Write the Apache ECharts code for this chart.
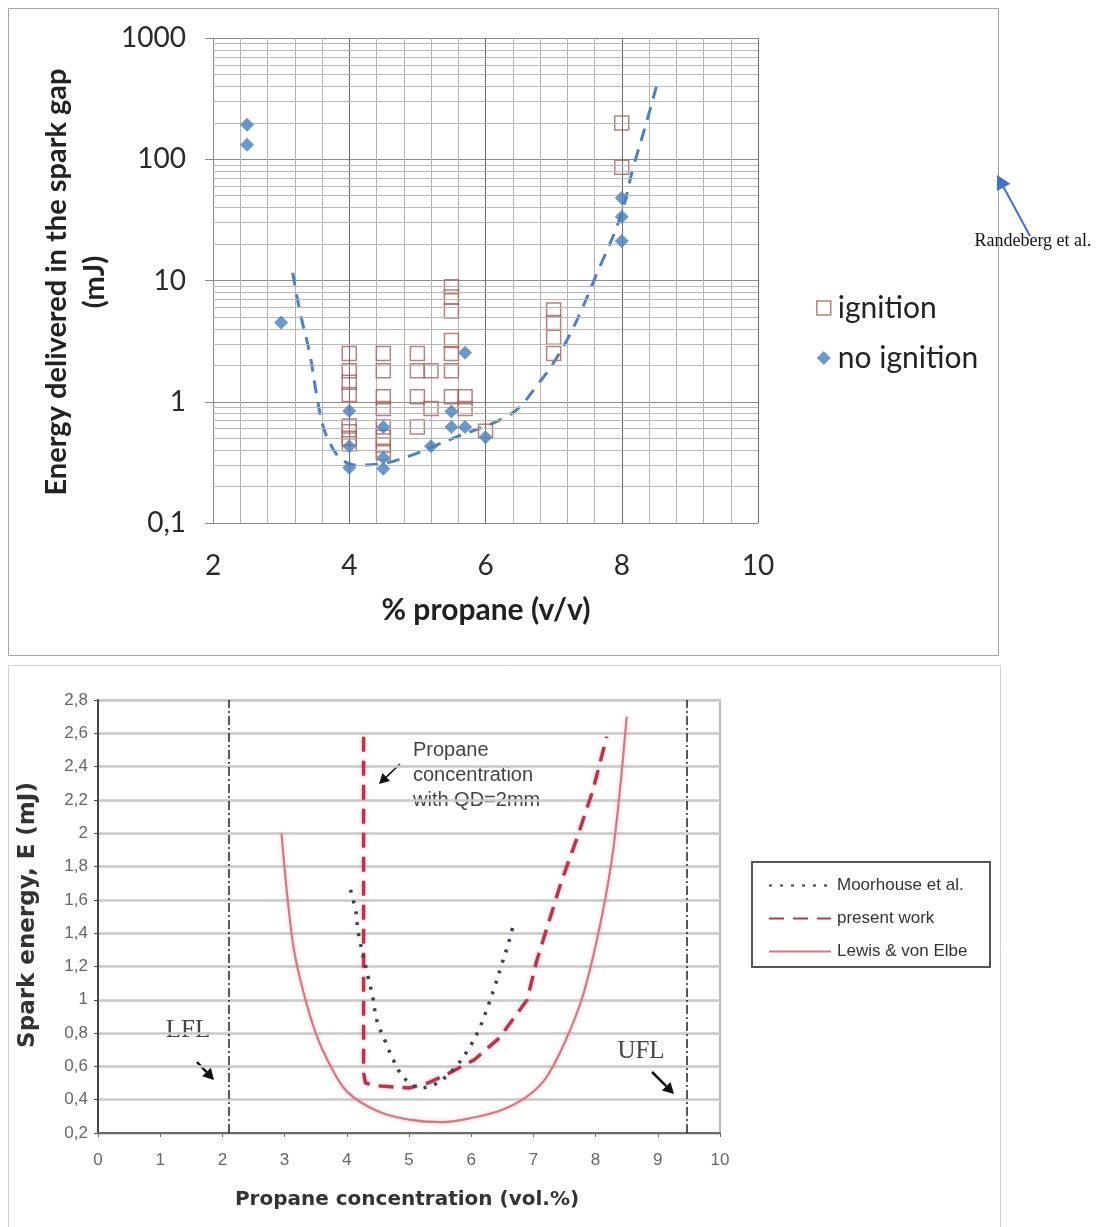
<!DOCTYPE html>
<html>
<head>
<meta charset="utf-8">
<script src="https://cdn.jsdelivr.net/npm/echarts@6/dist/echarts.min.js"></script>
<style>
html,body{margin:0;padding:0;background:#fff;}
#chart{width:1096px;height:1227px;}
</style>
</head>
<body>
<div id="chart"></div>
<script>
// ---------- Top chart data (log scale) ----------
const ignitionX = [4,4,4,4,4,4,4,4, 4.5,4.5,4.5,4.5,4.5,4.5,4.5,4.5, 5,5,5,5, 5.2,5.2, 5.5,5.5,5.5,5.5,5.5,5.5,5.5, 5.7,5.7, 6, 7,7,7,7, 8,8];
const ignitionY = [2.5,1.8,1.45,1.15,0.63,0.565,0.5,0.45, 2.5,1.8,1.1,0.88,0.62,0.51,0.44,0.38, 2.5,1.8,1.1,0.62, 1.8,0.88, 8.9,7.3,5.6,3.2,2.5,1.8,1.1, 1.1,0.88, 0.57, 5.7,4.5,3.4,2.5, 199,86];
const noIgnitionX = [2.5,2.5, 3, 4,4,4, 4.5,4.5,4.5, 5.2, 5.5,5.5, 5.7,5.7, 6, 8,8,8];
const noIgnitionY = [193,132, 4.5, 0.84,0.43,0.285, 0.62,0.345,0.28, 0.43, 0.83,0.62, 2.54,0.62, 0.51, 48,33.5,21.2];
const fitX = [3.17,3.28,3.42,3.52,3.62,3.75,3.9,4.1,4.5,4.9,5.2,5.6,6.0,6.3,6.5,6.75,7.0,7.3,7.64,7.98,8.17,8.35,8.52];
const fitY = [11.6,5.4,2.5,1.15,0.62,0.42,0.33,0.3,0.31,0.36,0.42,0.52,0.63,0.75,0.9,1.35,2.1,4.2,11.6,33.5,86,190,420];
const topXTicks = [2,4,6,8,10];
const topYTicks = [0.1,1,10,100,1000];

// ---------- Bottom chart data ----------
const moorhouseX = [4.06,4.15,4.18,4.34,4.42,4.48,4.63,4.76,4.92,5.19,5.45,5.71,5.95,6.11,6.24,6.37,6.48,6.6,6.69];
const moorhouseY = [1.66,1.52,1.41,1.14,1.01,0.88,0.74,0.63,0.53,0.47,0.5,0.58,0.70,0.81,0.93,1.07,1.2,1.34,1.47];
const presentX = [4.27,4.27,4.3,4.45,4.6,4.8,5.0,5.3,5.6,6.05,6.45,6.9,7.05,7.25,7.45,7.7,7.95,8.18];
const presentY = [2.58,0.56,0.5,0.485,0.48,0.475,0.47,0.5,0.55,0.64,0.77,1.0,1.23,1.47,1.71,1.97,2.25,2.58];
const lewisX = [2.95,3.05,3.15,3.3,3.5,3.7,4.0,4.5,5.0,5.5,6.0,6.5,6.9,7.2,7.5,7.8,8.1,8.3,8.5];
const lewisY = [2.0,1.6,1.3,1.05,0.8,0.63,0.45,0.33,0.28,0.265,0.29,0.34,0.42,0.53,0.74,1.03,1.5,1.95,2.7];
const limitX = [2.1, 9.47];          // LFL, UFL
const bottomXTicks = [0,1,2,3,4,5,6,7,8,9,10];
const bottomYTicks = [0.2,0.4,0.6,0.8,1,1.2,1.4,1.6,1.8,2,2.2,2.4,2.6,2.8];

const zip = (xs, ys) => xs.map((x, i) => [x, ys[i]]);

// minor log gridlines (2..9 per decade)
const minorLog = [];
[0.1, 1, 10, 100].forEach(d => { for (let k = 2; k <= 9; k++) minorLog.push(+(d * k).toPrecision(3)); });

const commaFmt = v => {
  const n = Math.round(v * 10) / 10;
  return (Number.isInteger(n) ? String(n) : n.toFixed(1)).replace('.', ',');
};

function arrow(x1, y1, x2, y2, color, w, head) {
  const ang = Math.atan2(y2 - y1, x2 - x1);
  const hl = head, hw = head * 0.55;
  const bx = x2 - hl * Math.cos(ang), by = y2 - hl * Math.sin(ang);
  const px = -Math.sin(ang) * hw, py = Math.cos(ang) * hw;
  return [
    { type: 'line', silent: true, shape: { x1, y1, x2: bx, y2: by }, style: { stroke: color, lineWidth: w } },
    { type: 'polygon', silent: true, shape: { points: [[x2, y2], [bx + px, by + py], [bx - px, by - py]] }, style: { fill: color } }
  ];
}

const chart = echarts.init(document.getElementById('chart'), null, { renderer: 'canvas' });

const option = {
  backgroundColor: '#fff',
  animation: false,
  grid: [
    { left: 213, top: 38, width: 545, height: 485, show: false },
    { left: 98, top: 700, width: 622, height: 433, show: true, borderColor: '#bdbdbd', borderWidth: 2, backgroundColor: 'transparent' }
  ],
  xAxis: [
    {
      gridIndex: 0, type: 'value', min: 2, max: 10, interval: 2,
      axisLine: { show: true, onZero: false, lineStyle: { color: '#8a8a8a', width: 1 } },
      axisTick: { show: false },
      axisLabel: { fontSize: 28, fontFamily: 'Lato', color: '#2a2a2a', margin: 29,
        formatter: v => topXTicks.includes(v) ? String(v) : '' },
      splitLine: { show: true, lineStyle: { color: '#6e6e6e', width: 1 } },
      minorTick: { show: false, splitNumber: 5 },
      minorSplitLine: { show: true, lineStyle: { color: '#b4b4b4', width: 1 } }
    },
    {
      gridIndex: 1, type: 'value', min: 0, max: 10, interval: 1,
      axisLine: { show: true, onZero: false, lineStyle: { color: '#6a6a6a', width: 2 } },
      axisTick: { show: true, length: 4, lineStyle: { color: '#6a6a6a' } },
      axisLabel: { fontSize: 17, fontFamily: 'Liberation Sans', color: '#666', margin: 19,
        formatter: v => bottomXTicks.includes(v) ? String(v) : '' },
      splitLine: { show: false }
    }
  ],
  yAxis: [
    {
      gridIndex: 0, type: 'log', logBase: 10, min: 0.1, max: 1000,
      axisLine: { show: true, lineStyle: { color: '#8a8a8a', width: 1 } },
      axisTick: { show: true, length: 8, lineStyle: { color: '#8a8a8a' } },
      axisLabel: { fontSize: 28, fontFamily: 'Lato', color: '#2a2a2a', margin: 27,
        formatter: v => topYTicks.some(t => Math.abs(t - v) / t < 1e-6) ? commaFmt(v) : '' },
      splitLine: { show: true, lineStyle: { color: '#8c8c8c', width: 1 } }
    },
    {
      gridIndex: 1, type: 'value', min: 0.2, max: 2.8, interval: 0.2,
      axisLine: { show: true, onZero: false, lineStyle: { color: '#444', width: 2 } },
      axisTick: { show: true, length: 4, lineStyle: { color: '#444' } },
      axisLabel: { fontSize: 17, fontFamily: 'Liberation Sans', color: '#666', margin: 10,
        formatter: v => commaFmt(v) },
      splitLine: { show: true, lineStyle: { color: '#c9c9c9', width: 2.5 } }
    }
  ],
  legend: [
    {
      orient: 'vertical', left: 811, top: 288, itemGap: 20,
      itemWidth: 14, itemHeight: 14,
      textStyle: { fontSize: 30, fontFamily: 'Lato', color: '#222', padding: [0, 0, 0, 2] },
      data: [
        { name: 'ignition', icon: 'rect', itemStyle: { color: 'rgba(0,0,0,0)', borderColor: '#a8615a', borderWidth: 1.5 } },
        { name: 'no ignition', icon: 'diamond', itemStyle: { color: '#4a7ebb' } }
      ]
    },
    {
      orient: 'vertical', left: 763, top: 872, itemGap: 16,
      itemWidth: 62, itemHeight: 14,
      itemStyle: { opacity: 0 },
      textStyle: { fontSize: 17, fontFamily: 'Liberation Sans', color: '#333', padding: [0, 0, 0, 1] },
      data: ['Moorhouse et al.', 'present work', 'Lewis & von Elbe']
    }
  ],
  series: [
    {
      name: 'minorgrid', type: 'line', xAxisIndex: 0, yAxisIndex: 0, data: [], z: 0, silent: true,
      markLine: {
        silent: true, symbol: ['none', 'none'], label: { show: false },
        lineStyle: { color: '#b8b8b8', width: 1, type: 'solid' },
        data: minorLog.map(v => ({ yAxis: v }))
      }
    },
    {
      name: 'fit', type: 'line', xAxisIndex: 0, yAxisIndex: 0, smooth: 0.4, showSymbol: false, symbol: 'none', z: 3,
      lineStyle: { color: '#4f81bd', width: 3, type: [13, 9] },
      data: zip(fitX, fitY)
    },
    {
      name: 'ignition', type: 'scatter', xAxisIndex: 0, yAxisIndex: 0, symbol: 'rect', symbolSize: 14, z: 4,
      itemStyle: { color: 'rgba(0,0,0,0)', borderColor: '#a8615a', borderWidth: 1.5 },
      data: zip(ignitionX, ignitionY)
    },
    {
      name: 'no ignition', type: 'scatter', xAxisIndex: 0, yAxisIndex: 0, symbol: 'diamond', symbolSize: 14, z: 5,
      itemStyle: { color: '#4a7ebb' },
      data: zip(noIgnitionX, noIgnitionY)
    },
    {
      name: 'limits', type: 'line', xAxisIndex: 1, yAxisIndex: 1, data: [], z: 2, silent: true,
      markLine: {
        silent: true, symbol: ['none', 'none'], label: { show: false },
        lineStyle: { color: '#222', width: 1.5, type: [9, 3, 2, 3] },
        data: limitX.map(v => ({ xAxis: v }))
      }
    },
    {
      name: 'Lewis & von Elbe', type: 'line', xAxisIndex: 1, yAxisIndex: 1, smooth: 0.35, symbol: 'none', z: 3,
      itemStyle: { color: 'rgba(0,0,0,0)' },
      lineStyle: { color: '#cf7b82', width: 2.2, shadowColor: 'rgba(240,120,140,0.45)', shadowBlur: 4 },
      data: zip(lewisX, lewisY)
    },
    {
      name: 'present work', type: 'line', xAxisIndex: 1, yAxisIndex: 1, smooth: false, symbol: 'none', z: 4,
      itemStyle: { color: 'rgba(0,0,0,0)' },
      lineStyle: { color: '#b5374c', width: 3.5, type: [15, 9], shadowColor: 'rgba(240,120,140,0.5)', shadowBlur: 4 },
      data: zip(presentX, presentY)
    },
    {
      name: 'Moorhouse et al.', type: 'line', xAxisIndex: 1, yAxisIndex: 1, smooth: 0.35, symbol: 'none', z: 5,
      itemStyle: { color: 'rgba(0,0,0,0)' },
      lineStyle: { color: '#3b4257', width: 3.5, type: [3, 8] },
      data: zip(moorhouseX, moorhouseY)
    }
  ],
  graphic: [
    { type: 'rect', silent: true, z: -10, shape: { x: 8.5, y: 8.5, width: 990, height: 647 }, style: { fill: 'none', stroke: '#a6a6a6', lineWidth: 1 } },
    { type: 'rect', silent: true, z: -10, shape: { x: 8.5, y: 665.5, width: 992, height: 575 }, style: { fill: 'none', stroke: '#d2d2d2', lineWidth: 1 } },
    { type: 'rect', silent: true, shape: { x: 752, y: 862, width: 238, height: 105 }, style: { fill: 'none', stroke: '#555', lineWidth: 2 } },
    { type: 'text', silent: true, x: 57, y: 282, rotation: Math.PI / 2,
      style: { text: 'Energy delivered in the spark gap', font: 'bold 29px Lato', fill: '#222', align: 'center', verticalAlign: 'middle' } },
    { type: 'text', silent: true, x: 95, y: 282, rotation: Math.PI / 2,
      style: { text: '(mJ)', font: 'bold 29px Lato', fill: '#222', align: 'center', verticalAlign: 'middle' } },
    { type: 'text', silent: true, x: 486, y: 610,
      style: { text: '% propane (v/v)', font: 'bold 30px Lato', fill: '#222', align: 'center', verticalAlign: 'middle' } },
    { type: 'text', silent: true, x: 1033, y: 241,
      style: { text: 'Randeberg et al.', font: '18px "Liberation Serif"', fill: '#111', align: 'center', verticalAlign: 'middle' } },
    ...arrow(1030, 236, 997, 175, '#4472c4', 2, 14),
    { type: 'text', silent: true, x: 28, y: 915, rotation: Math.PI / 2,
      style: { text: 'Spark energy, E (mJ)', font: 'bold 23px "DejaVu Sans"', fill: '#333', align: 'center', verticalAlign: 'middle' } },
    { type: 'text', silent: true, x: 407, y: 1200,
      style: { text: 'Propane concentration (vol.%)', font: 'bold 20px "DejaVu Sans"', fill: '#333', align: 'center', verticalAlign: 'middle' } },
    { type: 'text', silent: true, x: 413, y: 750,
      style: { text: 'Propane', font: '20px "Liberation Sans"', fill: '#444', align: 'left', verticalAlign: 'middle' } },
    { type: 'text', silent: true, x: 413, y: 775,
      style: { text: 'concentration', font: '20px "Liberation Sans"', fill: '#444', align: 'left', verticalAlign: 'middle' } },
    { type: 'text', silent: true, x: 413, y: 800,
      style: { text: 'with QD=2mm', font: '20px "Liberation Sans"', fill: '#444', align: 'left', verticalAlign: 'middle' } },
    ...arrow(400, 764, 379, 784, '#111', 1.5, 10),
    { type: 'text', silent: true, x: 188, y: 1030,
      style: { text: 'LFL', font: '25px "Liberation Serif"', fill: '#444', align: 'center', verticalAlign: 'middle' } },
    ...arrow(197, 1062, 214, 1080, '#111', 2.5, 11),
    { type: 'text', silent: true, x: 641, y: 1051,
      style: { text: 'UFL', font: '25px "Liberation Serif"', fill: '#444', align: 'center', verticalAlign: 'middle' } },
    ...arrow(652, 1072, 674, 1094, '#111', 2.5, 11)
  ]
};

chart.setOption(option);
</script>
</body>
</html>
